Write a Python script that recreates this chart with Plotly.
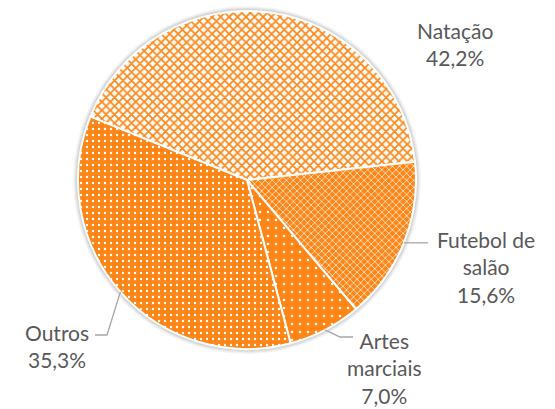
import math
import plotly.graph_objects as go

# Sports practised — share of respondents
labels = ["Natação", "Futebol de salão", "Artes marciais", "Outros"]
values = [42.2, 15.6, 7.0, 35.3]
text_labels = ["Natação<br>42,2%", "Futebol de<br>salão<br>15,6%", "Artes<br>marciais<br>7,0%", "Outros<br>35,3%"]

W, H = 555, 409
ORANGE = "#FF8616"
GREY_TEXT = "#595959"
LEADER = "#A6A6A6"

# pie placement in pixels
CX, CY, R = 247, 180, 169
ROTATION = 292


def px(x):
    return x / W


def py(y):
    return 1 - y / H


fig = go.Figure()

fig.add_trace(go.Pie(
    labels=labels,
    values=values,
    sort=False,
    direction="clockwise",
    rotation=ROTATION,
    textinfo="none",
    hoverinfo="label+percent",
    showlegend=False,
    domain=dict(x=[px(CX - R), px(CX + R)], y=[py(CY + R), py(CY - R)]),
    marker=dict(
        colors=["#FFFFFF", ORANGE, ORANGE, ORANGE],
        line=dict(color="#FFFFFF", width=2),
        pattern=dict(
            shape=["x", "x", ".", "."],
            fgcolor=[ORANGE, "#FFFFFF", "#FFFFFF", "#FFFFFF"],
            bgcolor=["#FFFFFF", ORANGE, ORANGE, ORANGE],
            size=[6, 5, 8, 6],
            solidity=[0.5, 0.25, 0.08, 0.12],
            fillmode="replace",
        ),
    ),
))

# soft outer shadow around the pie
shapes = []
for i, a in enumerate([0.035, 0.04, 0.05, 0.06]):
    rr = R + 5 - i
    shapes.append(dict(
        type="circle", xref="paper", yref="paper", layer="below",
        x0=px(CX - rr), x1=px(CX + rr), y0=py(CY + rr), y1=py(CY - rr),
        fillcolor=f"rgba(0,0,0,{a})", line=dict(width=0),
    ))

# leader lines start at the edge of each slice, at its mid-angle
total = sum(values)
mid_angles = []
acc = 0.0
for v in values:
    mid_angles.append(ROTATION + (acc + v / 2) / total * 360)
    acc += v


def edge(i):
    a = math.radians(mid_angles[i])
    return CX + R * math.sin(a), CY - R * math.cos(a)


leader_paths = {
    1: [(428, None)],
    2: [(340, 337), (353, 337)],
    3: [(107, 335), (95, 335)],
}
for i, pts in leader_paths.items():
    x0, y0 = edge(i)
    coords = [(x0, y0)]
    for (x, y) in pts:
        coords.append((x, y0 if y is None else y))
    path = "M " + " L ".join(f"{px(x)},{py(y)}" for x, y in coords)
    shapes.append(dict(type="path", xref="paper", yref="paper", path=path,
                       line=dict(color=LEADER, width=1.3)))

# label blocks (centre positions in pixels)
label_pos = [(455, 44), (486, 267), (384, 368), (57, 346)]
annotations = []
for t, (x, y) in zip(text_labels, label_pos):
    annotations.append(dict(
        x=px(x), y=py(y), xref="paper", yref="paper", text=t, showarrow=False,
        xanchor="center", yanchor="middle", align="center",
        font=dict(family="Lato", size=21, color=GREY_TEXT),
    ))

fig.update_layout(
    width=W, height=H,
    margin=dict(l=0, r=0, t=0, b=0),
    paper_bgcolor="#FFFFFF", plot_bgcolor="#FFFFFF",
    shapes=shapes, annotations=annotations,
)

fig.write_html("out.html")
